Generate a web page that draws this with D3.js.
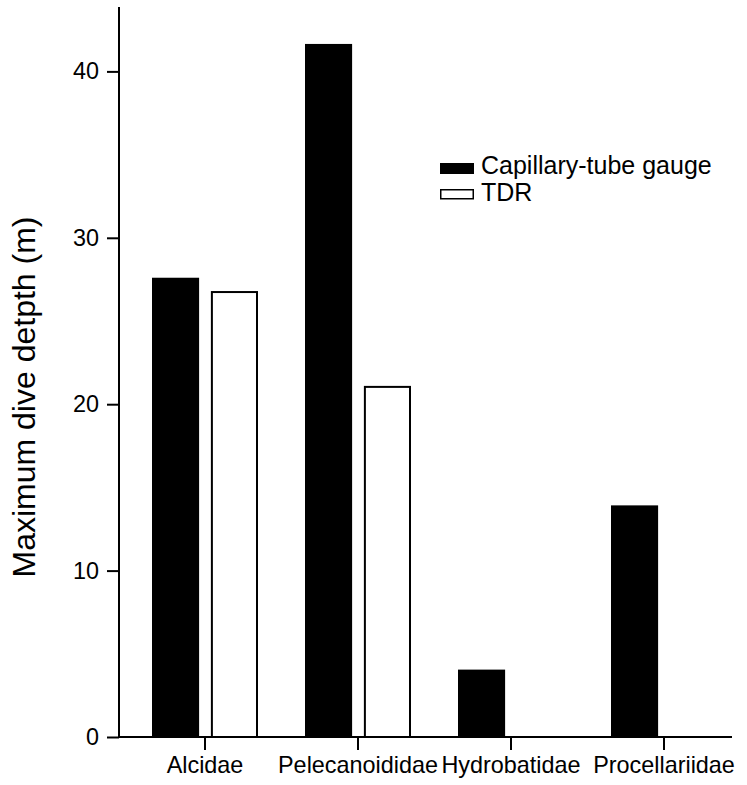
<!DOCTYPE html>
<html>
<head>
<meta charset="utf-8">
<script src="https://cdn.jsdelivr.net/npm/d3@7"></script>
<style>
  html, body { margin: 0; padding: 0; background: #fff; }
  svg { display: block; font-family: "Liberation Sans", Arial, sans-serif; }
</style>
</head>
<body>
<svg id="chart" width="747" height="785"></svg>
<script>
const categories = ["Alcidae", "Pelecanoididae", "Hydrobatidae", "Procellariidae"];
const seriesNames = ["Capillary-tube gauge", "TDR"];
const capillaryValues = [27.6, 41.65, 4.05, 13.92];
const tdrValues = [26.8, 21.1, null, null];
const yTicks = [0, 10, 20, 30, 40];
const yLabel = "Maximum dive detpth (m)";

const svg = d3.select("#chart");
const x0 = 119, yBase = 737, yTop = 7, xEnd = 732;

const y = d3.scaleLinear().domain([0, 43.87]).range([yBase, yTop]);
const x = d3.scaleBand().domain(categories).range([128.5, 740.5]).paddingInner(0).paddingOuter(0);

const fills = { "Capillary-tube gauge": "#000", "TDR": "#fff" };
const valuesBySeries = { "Capillary-tube gauge": capillaryValues, "TDR": tdrValues };

// bars
categories.forEach((cat, i) => {
  const c = x(cat) + x.bandwidth() / 2;
  const x1 = d3.scaleBand().domain(seriesNames).range([c - 53, c + 53]).paddingInner(0.2);
  seriesNames.forEach(s => {
    const v = valuesBySeries[s][i];
    if (v == null) return;
    const isBlack = s === "Capillary-tube gauge";
    const sw = isBlack ? 0 : 2;
    svg.append("rect")
      .attr("x", x1(s) + sw / 2)
      .attr("y", y(v) + sw / 2)
      .attr("width", x1.bandwidth() - sw)
      .attr("height", y(0) - y(v) - sw / 2)
      .attr("fill", fills[s])
      .attr("stroke", isBlack ? "none" : "#000")
      .attr("stroke-width", sw);
  });
});

// y axis
const yAxis = d3.axisLeft(y).tickValues(yTicks).tickSize(12).tickPadding(8).tickSizeOuter(0);
const gy = svg.append("g").attr("transform", `translate(${x0},0)`).call(yAxis);
gy.select(".domain").remove();
gy.selectAll(".tick line").attr("stroke", "#000").attr("stroke-width", 2);
gy.selectAll(".tick text").attr("font-size", 23.4).attr("fill", "#000")
  .attr("font-family", "Liberation Sans, Arial, sans-serif");
svg.append("line").attr("x1", x0).attr("x2", x0).attr("y1", yTop).attr("y2", yBase + 1)
  .attr("stroke", "#000").attr("stroke-width", 2);

// x axis
const xAxis = d3.axisBottom(x).tickSize(13).tickPadding(6).tickSizeOuter(0);
const gx = svg.append("g").attr("transform", `translate(0,${yBase})`).call(xAxis);
gx.select(".domain").remove();
gx.selectAll(".tick line").attr("stroke", "#000").attr("stroke-width", 2);
gx.selectAll(".tick text").attr("font-size", 23.4).attr("fill", "#000")
  .attr("font-family", "Liberation Sans, Arial, sans-serif");
svg.append("line").attr("x1", x0).attr("x2", xEnd).attr("y1", yBase).attr("y2", yBase)
  .attr("stroke", "#000").attr("stroke-width", 2);

// y label
svg.append("text")
  .attr("transform", `translate(35,397) rotate(-90)`)
  .attr("text-anchor", "middle")
  .attr("font-size", 32)
  .attr("fill", "#000")
  .text(yLabel);

// legend
const legend = svg.append("g").attr("transform", "translate(440,163)");
seriesNames.forEach((s, i) => {
  const g = legend.append("g").attr("transform", `translate(0,${i * 27})`);
  const isBlack = s === "Capillary-tube gauge";
  g.append("rect")
    .attr("x", isBlack ? 0 : 0.75)
    .attr("y", isBlack ? 0 : -0.25)
    .attr("width", isBlack ? 34 : 32.5)
    .attr("height", isBlack ? 11 : 9)
    .attr("fill", fills[s])
    .attr("stroke", isBlack ? "none" : "#000")
    .attr("stroke-width", 1.5);
  g.append("text")
    .attr("x", 41)
    .attr("y", 10.5)
    .attr("font-size", 25)
    .attr("fill", "#000")
    .text(s);
});
</script>
</body>
</html>
